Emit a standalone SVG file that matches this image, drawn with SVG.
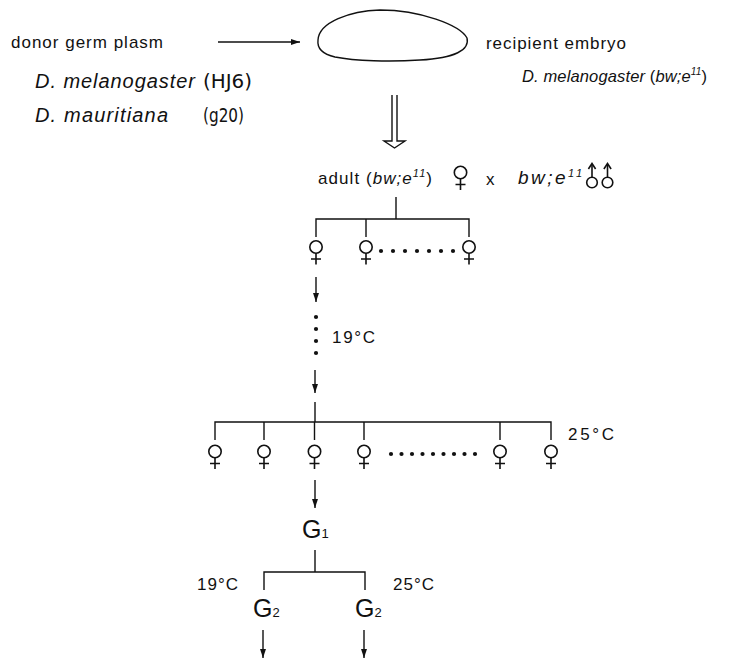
<svg xmlns="http://www.w3.org/2000/svg" width="749" height="659" viewBox="0 0 749 659">
<style>
text{font-family:"Liberation Sans",Arial,sans-serif;fill:#111}
.t{font-size:17px}
.b{font-size:20px}
.i{font-style:italic}
.c{font-size:19px;font-family:"DejaVu Sans Condensed","Liberation Sans",sans-serif}
.g{font-size:25px}
.s{font-size:13px}
.ln{stroke:#111;stroke-width:1.4;fill:none}
.sym{stroke:#111;stroke-width:1.6;fill:none}
.dot{fill:#111}
</style>
<defs>
<marker id="ah" viewBox="0 0 10 10" refX="10" refY="5" markerWidth="9" markerHeight="9" markerUnits="userSpaceOnUse" orient="auto">
<path d="M0,1.7 L10,5 L0,8.3 Z" fill="#111"/>
</marker>
<g id="fem" class="sym">
<circle cx="0" cy="0" r="6.2"/>
<path d="M0,6.2 V17.5 M-5,12 H5"/>
</g>
<g id="mal" class="sym">
<circle cx="0" cy="0" r="5.3"/>
<path d="M0,-5.3 V-18"/>
<path d="M-3.6,-13.5 L0,-19 L3.6,-13.5"/>
</g>
</defs>

<g id="donor">
<text class="t" x="11" y="48" textLength="152" lengthAdjust="spacing">donor germ plasm</text>
<text x="35" y="88"><tspan class="b i" textLength="160" lengthAdjust="spacing">D. melanogaster</tspan><tspan x="203" class="c" textLength="49" lengthAdjust="spacingAndGlyphs">(HJ6)</tspan></text>
<text x="35" y="122"><tspan class="b i" textLength="133" lengthAdjust="spacing">D. mauritiana</tspan><tspan x="203" class="c" textLength="41" lengthAdjust="spacingAndGlyphs">(g20)</tspan></text>
</g>

<g id="embryo">
<path class="ln" d="M318,40 C319,22 350,11 380,10 C420,10 460,25 467,38 C470,50 455,58 420,60 C390,62 355,61 335,57 C322,54 317,48 318,40 Z"/>
<text class="t" x="486" y="49" textLength="140" lengthAdjust="spacing">recipient embryo</text>
<text x="522" y="82" font-size="16.5" textLength="185" lengthAdjust="spacing"><tspan class="i">D. melanogaster </tspan>(<tspan class="i">bw;e</tspan><tspan class="i" font-size="10" dy="-7">11</tspan><tspan dy="7">)</tspan></text>
</g>

<g id="adult">
<text class="t" x="318" y="184" textLength="114" lengthAdjust="spacing">adult (<tspan class="i">bw;e</tspan><tspan class="i" font-size="11" dy="-7">11</tspan><tspan dy="7">)</tspan></text>
<use href="#fem" x="460.5" y="172.5"/>
<text class="t" x="486" y="185">x</text>
<text class="i" font-size="19" x="518" y="184" textLength="64" lengthAdjust="spacing">bw;e<tspan font-size="11" dy="-7">11</tspan></text>
<use href="#mal" x="592" y="182.5"/>
<use href="#mal" x="607.5" y="182.5"/>
</g>

<g id="row1">
<use href="#fem" x="316" y="247"/>
<use href="#fem" x="366" y="247"/>
<use href="#fem" x="469" y="247"/>
<g class="dot">
<circle cx="381" cy="251" r="2.1"/><circle cx="393" cy="251" r="2.1"/><circle cx="405" cy="251" r="2.1"/><circle cx="417" cy="251" r="2.1"/><circle cx="429" cy="251" r="2.1"/><circle cx="441" cy="251" r="2.1"/><circle cx="453" cy="251" r="2.1"/>
</g>
</g>

<g id="temp19a">
<g class="dot">
<circle cx="316" cy="317" r="2.1"/><circle cx="316" cy="329" r="2.1"/><circle cx="316" cy="341" r="2.1"/><circle cx="316" cy="353" r="2.1"/>
</g>
<text class="t" x="332" y="343" textLength="43" lengthAdjust="spacing">19°C</text>
</g>

<g id="row2">
<use href="#fem" x="215" y="451.5"/>
<use href="#fem" x="264" y="451.5"/>
<use href="#fem" x="314.5" y="451.5"/>
<use href="#fem" x="364" y="451.5"/>
<use href="#fem" x="500" y="451.5"/>
<use href="#fem" x="551" y="451.5"/>
<g class="dot">
<circle cx="391" cy="454" r="2.1"/><circle cx="401.5" cy="454" r="2.1"/><circle cx="412" cy="454" r="2.1"/><circle cx="422.5" cy="454" r="2.1"/><circle cx="433" cy="454" r="2.1"/><circle cx="443.5" cy="454" r="2.1"/><circle cx="454" cy="454" r="2.1"/><circle cx="464.5" cy="454" r="2.1"/><circle cx="475" cy="454" r="2.1"/>
</g>
<text class="t" x="568" y="440" textLength="46" lengthAdjust="spacing">25°C</text>
</g>

<g id="G1">
<text x="302" y="538"><tspan class="g">G</tspan><tspan class="s">1</tspan></text>
</g>
<g id="G2a">
<text class="t" x="197" y="590" textLength="41" lengthAdjust="spacing">19°C</text>
<text x="253" y="617"><tspan class="g">G</tspan><tspan class="s">2</tspan></text>
</g>
<g id="G2b">
<text class="t" x="393" y="590" textLength="41" lengthAdjust="spacing">25°C</text>
<text x="355" y="617"><tspan class="g">G</tspan><tspan class="s">2</tspan></text>
</g>

<g id="connectors">
<line class="ln" x1="218" y1="42" x2="300" y2="42" marker-end="url(#ah)"/>
<path class="ln" stroke-width="1.3" d="M392,95 V141 H384 L394.5,148 L405,141 H397 V95"/>
<path class="ln" d="M396,197 V219 M316,237 V219 H469 V237 M366,219 V237"/>
<line class="ln" x1="316" y1="277" x2="316" y2="302" marker-end="url(#ah)"/>
<line class="ln" x1="315" y1="370" x2="315" y2="393" marker-end="url(#ah)"/>
<path class="ln" d="M315,402 V422 M215,440 V422 H551 V440 M264,422 V440 M314.5,422 V440 M364,422 V440 M500,422 V440"/>
<line class="ln" x1="315" y1="480" x2="315" y2="508" marker-end="url(#ah)"/>
<path class="ln" d="M315,550 V572 M264,590 V572 H365 V590"/>
<line class="ln" x1="263" y1="630" x2="263" y2="658" marker-end="url(#ah)"/>
<line class="ln" x1="364" y1="630" x2="364" y2="658" marker-end="url(#ah)"/>
</g>
</svg>
